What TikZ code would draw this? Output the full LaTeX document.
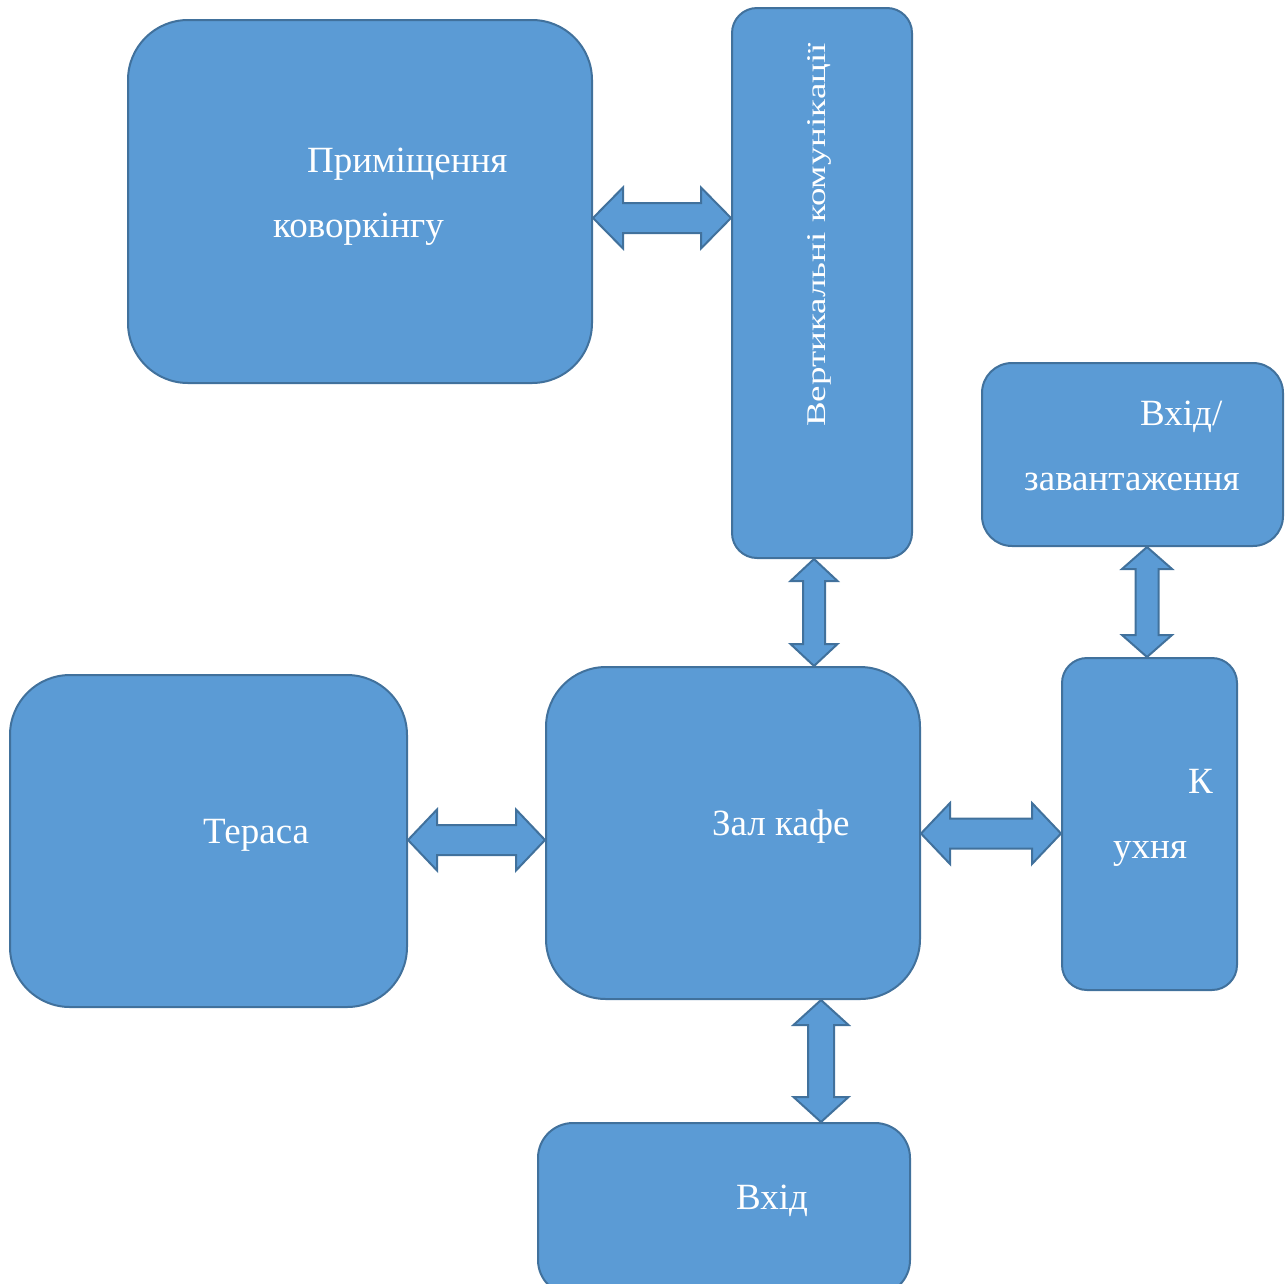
\documentclass[tikz,border=0pt]{standalone}
\usepackage{fontspec}
\setmainfont{Liberation Serif}
\usetikzlibrary{calc}
\definecolor{boxfill}{HTML}{5B9BD5}
\definecolor{boxline}{HTML}{41719C}
\tikzset{
  box/.style={draw=boxline, fill=boxfill, line width=2pt, rectangle, inner sep=0pt},
  barrow/.style={draw=boxline, fill=boxfill, line width=2pt, line join=miter},
  lbl/.style={text=white, inner sep=0pt, anchor=base west, font=\fontsize{37}{40}\selectfont}
}
% horizontal double block arrow: left node, right node, yc, shaft half, head half, head length
\newcommand{\hbarr}[6]{%
  \draw[barrow] (#1.east |- 0,#3) -- ++(#6,-#5) -- ++(0,#5-#4)
    -- ($(#2.west |- 0,#3)+(-#6,-#4)$) -- ++(0,#4-#5) -- (#2.west |- 0,#3)
    -- ++(-#6,#5) -- ++(0,#4-#5) -- ($(#1.east |- 0,#3)+(#6,#4)$)
    -- ++(0,#5-#4) -- cycle;}
% vertical double block arrow: top node, bottom node, xc, shaft half, head half, head length
\newcommand{\vbarr}[6]{%
  \draw[barrow] (#1.south -| #3,0) -- ++(-#5,#6) -- ++(#5-#4,0)
    -- ($(#2.north -| #3,0)+(-#4,-#6)$) -- ++(#4-#5,0) -- (#2.north -| #3,0)
    -- ++(#5,-#6) -- ++(#4-#5,0) -- ($(#1.south -| #3,0)+(#4,#6)$)
    -- ++(#5-#4,0) -- cycle;}
\begin{document}
\begin{tikzpicture}[x=1pt,y=-1pt]
\useasboundingbox (0,0) rectangle (1285,1283);
\clip (0,0) rectangle (1285,1283);
% boxes
\node[box, minimum width=464pt, minimum height=363pt, rounded corners=60pt] (cw) at (360,201.5) {};
\node[box, minimum width=180pt, minimum height=550pt, rounded corners=25pt] (vc) at (822,283) {};
\node[box, minimum width=301pt, minimum height=183pt, rounded corners=30pt] (load) at (1132.5,454.5) {};
\node[box, minimum width=175pt, minimum height=332pt, rounded corners=25pt] (kit) at (1149.5,824) {};
\node[box, minimum width=374pt, minimum height=332pt, rounded corners=60pt] (hall) at (733,833) {};
\node[box, minimum width=397pt, minimum height=332pt, rounded corners=60pt] (ter) at (208.5,841) {};
\node[box, minimum width=372pt, minimum height=172pt, rounded corners=35pt] (ent) at (724,1209) {};
% arrows
\hbarr{cw}{vc}{218}{15}{30.5}{30}
\vbarr{vc}{hall}{814}{11}{23.5}{22}
\vbarr{load}{kit}{1147}{11.5}{25}{22}
\hbarr{ter}{hall}{840}{15}{30.5}{29}
\hbarr{hall}{kit}{833.5}{15}{30.5}{29}
\vbarr{hall}{ent}{821}{13}{27.5}{25}
% labels
\node[lbl] (t1) at (307,172) {Приміщення};
\node[lbl] (t2) at (273,237) {коворкінгу};
\node[lbl, rotate=90, font=\fontsize{27}{30}\selectfont] (t3) at (825,427) {\scalebox{1.37}[1]{Вертикальні комунікації}};
\node[lbl] (t4) at (1140,425) {Вхід/};
\node[lbl] (t5) at (1024,490) {завантаження};
\node[lbl] (t6) at (1188,793) {К};
\node[lbl] (t7) at (1113,858) {ухня};
\node[lbl] (t8) at (712,835) {Зал кафе};
\node[lbl] (t9) at (203,843) {Тераса};
\node[lbl] (t10) at (736,1209) {Вхід};
\end{tikzpicture}
\end{document}
